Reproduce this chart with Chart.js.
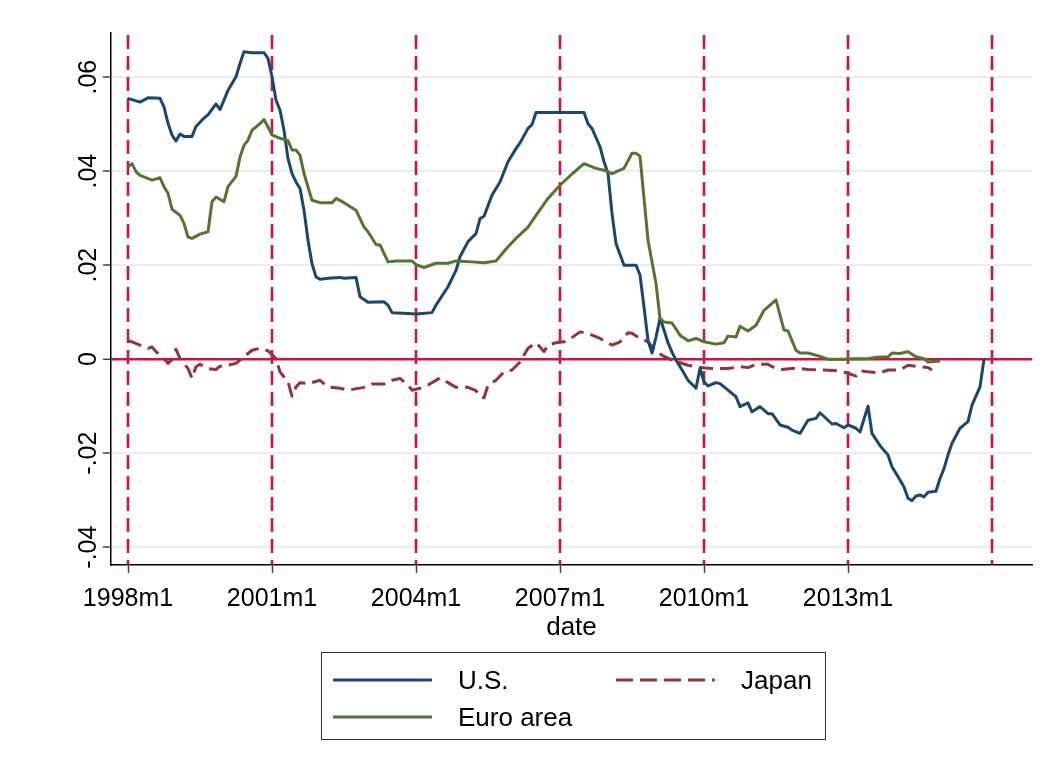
<!DOCTYPE html>
<html>
<head>
<meta charset="utf-8">
<script src="https://cdn.jsdelivr.net/npm/chart.js@4.4.1/dist/chart.umd.min.js"></script>
<style>
  html, body { margin: 0; padding: 0; background: #ffffff; }
  #wrap { position: relative; width: 1057px; height: 774px; }
  #chart { position: absolute; left: 0; top: 0; }
  #legend {
    position: absolute; left: 321px; top: 652px; width: 505px; height: 88px;
    border: 1.5px solid #333; box-sizing: border-box;
    font-family: "Liberation Sans", Arial, sans-serif; font-size: 26px; color: #000;
  }
  .item { position: absolute; display: flex; align-items: center; height: 30px; }
  .item svg { display: block; }
  .item span { margin-left: 26px; line-height: 30px; }
</style>
</head>
<body>
<div id="wrap">
  <canvas id="chart" width="1057" height="774"></canvas>
  <div id="legend"></div>
</div>
<script>
// Months are counted from 1998m1 (0 = 1998m1, 12 = 1999m1, ...).
const xTickMonths = [0, 36, 72, 108, 144, 180];
const xTickLabels = ['1998m1', '2001m1', '2004m1', '2007m1', '2010m1', '2013m1'];
const xLineMonths = [0, 36, 72, 108, 144, 180, 216];
const yTickValues = [-0.04, -0.02, 0, 0.02, 0.04, 0.06];
const yTickLabels = ['-.04', '-.02', '0', '.02', '.04', '.06'];

const seriesNames = ['U.S.', 'Japan', 'Euro area'];

const usMonths = [0, 3, 5, 8, 9, 10, 11, 12, 13, 14, 16, 17, 19, 20, 22, 23, 25, 27, 28, 29,
  31, 34, 35, 36, 37, 38, 39, 40, 41, 42, 43, 44, 45, 46, 47, 48, 50, 53, 54, 57,
  58, 60, 64, 65, 66, 70, 72, 76, 77, 80, 82, 83, 85, 87, 88, 89, 91, 93, 95, 97,
  98, 100, 101, 102, 114, 115, 116, 118, 119, 120, 121, 122, 124, 127, 128, 129, 130, 131, 132, 133,
  134, 135, 136, 137, 139, 140, 142, 143, 144, 145, 147, 148, 150, 152, 153, 155, 156, 158, 160, 161,
  163, 165, 166, 168, 170, 172, 173, 176, 177, 179, 180, 182, 183, 185, 186, 188, 190, 191, 193, 194,
  195, 196, 197, 198, 199, 200, 202, 203, 204, 205, 206, 208, 209, 210, 211, 213, 214];
const usValues = [0.0555, 0.0547, 0.0556, 0.0555, 0.0537, 0.0502, 0.0477, 0.0464, 0.0479, 0.0474, 0.0474, 0.0495, 0.0513, 0.0520, 0.0543, 0.0531, 0.0572, 0.0601, 0.0629, 0.0654,
  0.0652, 0.0652, 0.0640, 0.0601, 0.0551, 0.0530, 0.0487, 0.0427, 0.0395, 0.0377, 0.0363, 0.0317, 0.0253, 0.0203, 0.0175, 0.0170, 0.0172, 0.0174, 0.0172, 0.0174,
  0.0133, 0.0121, 0.0122, 0.0115, 0.0099, 0.0097, 0.0096, 0.0099, 0.0115, 0.0154, 0.0189, 0.0218, 0.0250, 0.0267, 0.0299, 0.0304, 0.0349, 0.0377, 0.0420, 0.0448,
  0.0460, 0.0491, 0.0499, 0.0525, 0.0525, 0.0501, 0.0491, 0.0452, 0.0420, 0.0395, 0.0310, 0.0246, 0.0200, 0.0200, 0.0179, 0.0111, 0.0040, 0.0013, 0.0047, 0.0087,
  0.0062, 0.0035, 0.0015, -0.0002, -0.0030, -0.0045, -0.0062, -0.0020, -0.0048, -0.0057, -0.0050, -0.0052, -0.0066, -0.0080, -0.0101, -0.0093, -0.0112, -0.0101, -0.0116, -0.0116,
  -0.0140, -0.0145, -0.0151, -0.0158, -0.0130, -0.0126, -0.0114, -0.0138, -0.0137, -0.0146, -0.0140, -0.0147, -0.0155, -0.0100, -0.0158, -0.0184, -0.0204, -0.0229, -0.0257, -0.0272,
  -0.0296, -0.0301, -0.0291, -0.0289, -0.0293, -0.0283, -0.0281, -0.0254, -0.0233, -0.0204, -0.0179, -0.0147, -0.0140, -0.0133, -0.0098, -0.0059, 0.0000];

const japanMonths = [0, 1, 3, 5, 6, 7, 9, 10, 11, 12, 13, 15, 16, 17, 18, 20, 22, 23, 25, 27,
  28, 31, 33, 35, 37, 38, 40, 41, 42, 43, 45, 48, 50, 53, 55, 59, 61, 64, 66, 68,
  70, 71, 73, 75, 78, 80, 82, 85, 87, 88, 89, 90, 92, 94, 96, 98, 99, 100, 102, 103,
  104, 105, 107, 109, 110, 113, 115, 118, 121, 123, 125, 126, 128, 130, 132, 134, 136, 140, 143, 146,
  150, 153, 155, 157, 160, 161, 163, 167, 170, 174, 178, 180, 182, 183, 185, 188, 190, 193, 195, 197,
  200, 201];
const japanValues = [0.0039, 0.0037, 0.0030, 0.0023, 0.0026, 0.0016, 0.0001, -0.0009, -0.0001, 0.0021, 0.0001, -0.0020, -0.0041, -0.0016, -0.0011, -0.0020, -0.0022, -0.0015, -0.0013, -0.0009,
  -0.0002, 0.0019, 0.0023, 0.0018, 0.0001, -0.0027, -0.0048, -0.0079, -0.0059, -0.0050, -0.0052, -0.0045, -0.0059, -0.0062, -0.0066, -0.0060, -0.0053, -0.0053, -0.0045, -0.0041,
  -0.0055, -0.0066, -0.0062, -0.0055, -0.0040, -0.0050, -0.0060, -0.0060, -0.0067, -0.0080, -0.0082, -0.0055, -0.0045, -0.0027, -0.0023, -0.0006, 0.0009, 0.0023, 0.0035, 0.0026,
  0.0016, 0.0030, 0.0035, 0.0037, 0.0040, 0.0058, 0.0055, 0.0044, 0.0030, 0.0037, 0.0056, 0.0055, 0.0044, 0.0037, 0.0016, 0.0006, -0.0002, -0.0013, -0.0018, -0.0020,
  -0.0020, -0.0016, -0.0018, -0.0011, -0.0011, -0.0016, -0.0022, -0.0019, -0.0022, -0.0023, -0.0025, -0.0030, -0.0036, -0.0025, -0.0027, -0.0029, -0.0023, -0.0023, -0.0013, -0.0015,
  -0.0018, -0.0023];

const euroMonths = [0, 1, 2, 3, 4, 6, 8, 9, 10, 11, 13, 14, 15, 16, 18, 20, 21, 22, 24, 25,
  27, 28, 29, 30, 31, 33, 34, 35, 36, 38, 40, 41, 42, 43, 44, 46, 48, 51, 52, 54,
  57, 59, 60, 62, 63, 65, 67, 71, 72, 74, 77, 80, 82, 86, 89, 92, 95, 97, 100, 102,
  105, 108, 111, 114, 117, 119, 121, 124, 126, 127, 128, 130, 132, 133, 134, 136, 138, 140, 142, 144,
  147, 149, 150, 152, 153, 155, 157, 159, 162, 164, 165, 167, 168, 170, 173, 175, 179, 181, 185, 187,
  190, 191, 193, 195, 197, 199, 200, 203];
const euroValues = [0.0409, 0.0416, 0.0399, 0.0391, 0.0388, 0.0381, 0.0386, 0.0367, 0.0353, 0.0319, 0.0306, 0.0289, 0.0260, 0.0257, 0.0266, 0.0271, 0.0335, 0.0345, 0.0335, 0.0367,
  0.0389, 0.0430, 0.0455, 0.0466, 0.0487, 0.0501, 0.0510, 0.0494, 0.0477, 0.0470, 0.0465, 0.0445, 0.0445, 0.0434, 0.0395, 0.0338, 0.0333, 0.0333, 0.0342, 0.0333,
  0.0317, 0.0281, 0.0271, 0.0244, 0.0243, 0.0207, 0.0209, 0.0209, 0.0201, 0.0195, 0.0204, 0.0204, 0.0209, 0.0207, 0.0205, 0.0209, 0.0239, 0.0257, 0.0281, 0.0306,
  0.0342, 0.0370, 0.0394, 0.0416, 0.0406, 0.0402, 0.0395, 0.0406, 0.0438, 0.0438, 0.0432, 0.0253, 0.0161, 0.0087, 0.0079, 0.0077, 0.0051, 0.0039, 0.0044, 0.0037,
  0.0032, 0.0035, 0.0049, 0.0047, 0.0070, 0.0060, 0.0072, 0.0104, 0.0126, 0.0062, 0.0060, 0.0019, 0.0013, 0.0013, 0.0006, 0.0000, 0.0000, 0.0001, 0.0001, 0.0004,
  0.0005, 0.0013, 0.0012, 0.0016, 0.0005, 0.0001, -0.0006, -0.0004];

const FONT = '"Liberation Sans", Arial, Helvetica, sans-serif';
const NAVY = '#1a476f';
const MAROON = '#90353b';
const GREEN = '#55752f';
const CRANBERRY = '#d0103f';
const GRID = '#e5eef0';

function toPoints(months, values) {
  return months.map((m, i) => ({ x: m, y: values[i] }));
}

// Dashed vertical reference lines at the start of every third year.
const xLinesPlugin = {
  id: 'xLines',
  beforeDatasetsDraw(chart) {
    const { ctx, chartArea, scales } = chart;
    ctx.save();
    ctx.strokeStyle = CRANBERRY;
    ctx.lineWidth = 2.6;
    ctx.setLineDash([14, 7]);
    for (const m of xLineMonths) {
      const px = Math.round(scales.x.getPixelForValue(m));
      ctx.beginPath();
      ctx.moveTo(px, chartArea.top + 2);
      ctx.lineTo(px, chartArea.bottom);
      ctx.stroke();
    }
    ctx.restore();
  }
};

const chart = new Chart(document.getElementById('chart'), {
  type: 'line',
  data: {
    datasets: [
      { label: seriesNames[0], data: toPoints(usMonths, usValues), borderColor: NAVY, borderWidth: 3, order: 1 },
      { label: seriesNames[1], data: toPoints(japanMonths, japanValues), borderColor: MAROON, borderWidth: 3, borderDash: [14, 7], order: 2 },
      { label: seriesNames[2], data: toPoints(euroMonths, euroValues), borderColor: GREEN, borderWidth: 3, order: 0 }
    ]
  },
  options: {
    responsive: false,
    animation: false,
    devicePixelRatio: 1,
    layout: { padding: { left: 0, top: 33, right: 25, bottom: 131 } },
    elements: {
      point: { radius: 0 },
      line: { tension: 0, borderJoinStyle: 'round', borderCapStyle: 'butt', fill: false }
    },
    plugins: { legend: { display: false }, tooltip: { enabled: false } },
    scales: {
      x: {
        type: 'linear',
        min: -4.25,
        max: 226,
        afterBuildTicks(scale) { scale.ticks = xTickMonths.map(v => ({ value: v })); },
        afterFit(scale) { scale.height = 78; },
        ticks: {
          autoSkip: false,
          maxRotation: 0,
          padding: 11,
          color: '#000',
          font: { family: FONT, size: 25 },
          callback(value) { return xTickLabels[xTickMonths.indexOf(value)]; }
        },
        grid: { drawOnChartArea: false, drawTicks: true, tickLength: 8, tickColor: '#444', tickWidth: 1.5 },
        border: { display: true, color: '#000', width: 1.5 },
        title: { display: true, text: 'date', color: '#000', font: { family: FONT, size: 26 }, padding: 0 }
      },
      y: {
        type: 'linear',
        min: -0.0438,
        max: 0.0694,
        afterBuildTicks(scale) { scale.ticks = yTickValues.map(v => ({ value: v })); },
        afterFit(scale) { scale.width = 111; },
        ticks: {
          autoSkip: false,
          minRotation: 90,
          maxRotation: 90,
          crossAlign: 'center',
          padding: -8,
          color: '#000',
          font: { family: FONT, size: 25 },
          callback(value) { return yTickLabels[yTickValues.indexOf(value)]; }
        },
        grid: {
          color: (c) => (c.tick && c.tick.value === 0 ? CRANBERRY : GRID),
          lineWidth: (c) => (c.tick && c.tick.value === 0 ? 2.6 : 2),
          tickLength: 8,
          tickColor: '#444',
          tickWidth: 1.5
        },
        border: { display: true, color: '#000', width: 1.5 }
      }
    }
  },
  plugins: [xLinesPlugin]
});

// Two-column legend built from the dataset styles.
(function buildLegend() {
  const box = document.getElementById('legend');
  const slots = [
    { left: 11, top: 12 },   // row 1, col 1
    { left: 294, top: 12 },  // row 1, col 2
    { left: 11, top: 49 }    // row 2, col 1
  ];
  chart.data.datasets.forEach((ds, i) => {
    const item = document.createElement('div');
    item.className = 'item';
    item.style.left = slots[i].left + 'px';
    item.style.top = slots[i].top + 'px';
    const dash = ds.borderDash ? `stroke-dasharray="17 7"` : '';
    item.innerHTML =
      `<svg width="99" height="10"><line x1="0" y1="5" x2="99" y2="5" stroke="${ds.borderColor}" stroke-width="3" ${dash}/></svg>` +
      `<span>${ds.label}</span>`;
    box.appendChild(item);
  });
})();
</script>
</body>
</html>
